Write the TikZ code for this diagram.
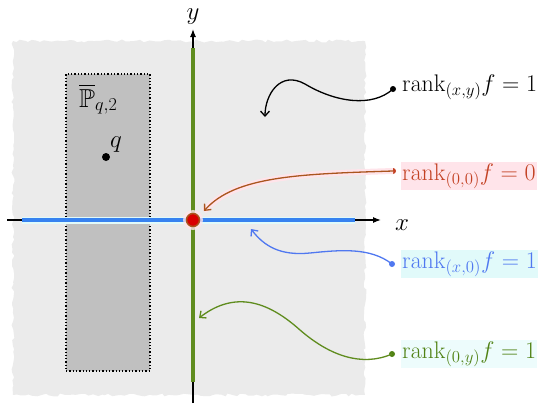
\RequirePackage{fix-cm}
\documentclass[tikz,border=0pt]{standalone}
\usepackage{amsmath,amssymb}
\usetikzlibrary{arrows.meta,decorations.pathmorphing}
\definecolor{regiongray}{RGB}{235,235,235}
\definecolor{boxgray}{RGB}{192,192,192}
\definecolor{rlab}{RGB}{195,65,35}
\definecolor{rcurve}{RGB}{170,85,30}
\definecolor{rpink}{RGB}{255,228,234}
\definecolor{blab}{RGB}{80,120,240}
\definecolor{baxis}{RGB}{55,130,240}
\definecolor{bglow}{RGB}{225,250,250}
\definecolor{glab}{RGB}{80,130,20}
\definecolor{gaxis}{RGB}{95,140,30}
\tikzset{
  lbl/.style={anchor=base west, inner sep=1pt, font=\fontsize{24}{28}\selectfont},
  axlbl/.style={inner sep=0pt, anchor=base, font=\fontsize{25}{29}\selectfont},
  dotn/.style={circle, fill, inner sep=0pt, minimum size=6pt},
  callout/.style={line width=1.3pt, -{Straight Barb[length=5pt,width=9pt]}},
  axisline/.style={line width=1.2pt, -{Latex[length=8pt,width=6pt]}},
}
\begin{document}
\begin{tikzpicture}[x=1pt,y=-1pt]
\useasboundingbox (0,0) rectangle (550,410);
% ragged grey region
\fill[regiongray, decorate, decoration={random steps, segment length=4pt, amplitude=1.5pt}]
  (13,41) rectangle (365,395);
% dotted box
\node[draw, dotted, line width=1.3pt, fill=boxgray, minimum width=84pt, minimum height=297pt, inner sep=0pt] (box) at (108,222.5) {};
\node[font=\fontsize{26}{30}\selectfont, anchor=base west, inner sep=0pt] (plab) at (79,107) {$\overline{\mathbb{P}}_{q,2}$};
\node[dotn, minimum size=8pt] (qdot) at (106,157) {};
\node[font=\fontsize{25}{29}\selectfont, anchor=base west, inner sep=0pt] (qlab) at (110,147) {$q$};
% axes
\coordinate (xs) at (7,220);
\coordinate (xe) at (381,220);
\coordinate (ys) at (193,403);
\coordinate (ye) at (193,29);
\draw[axisline] (xs) -- (xe);
\draw[axisline] (ys) -- (ye);
\coordinate (bs) at (22,220);
\coordinate (be) at (355,220);
\coordinate (gs) at (193,382);
\coordinate (ge) at (193,48);
\draw[bglow, line width=7pt] (bs) -- (be);
\draw[baxis, line width=4pt] (bs) -- (be);
\draw[gaxis, line width=4pt] (gs) -- (ge);
\node[axlbl] (xlab) at (402,230) {$x$};
\node[axlbl] (ylab) at (193,19) {$y$};
% origin dot
\node[circle, fill=rpink, minimum size=20pt, inner sep=0pt, opacity=0.8] (oglow) at (193,220) {};
\node[circle, fill=red!85!black, draw=rcurve, line width=1.5pt, minimum size=13pt, inner sep=0pt] (origin) at (193,220) {};
% labels
\node[lbl, text=black] (l1) at (401,91) {$\mathrm{rank}_{(x,y)}f = 1$};
\node[lbl, text=rlab, fill=rpink] (l2) at (401,180) {$\mathrm{rank}_{(0,0)}f = 0$};
\node[lbl, text=blab, fill=bglow] (l3) at (401,268) {$\mathrm{rank}_{(x,0)}f = 1$};
\node[lbl, text=glab, fill=bglow!60] (l4) at (401,358) {$\mathrm{rank}_{(0,y)}f = 1$};
% dots
\node[dotn, black] (d1) at (393,89) {};
\node[dotn, rlab] (d2) at (393,171) {};
\node[dotn, blab] (d3) at (392,264) {};
\node[dotn, glab] (d4) at (392,354) {};
% targets
\coordinate (t1) at (265,117);
\coordinate (t2) at (204,211);
\coordinate (t3) at (251,229);
\coordinate (t4) at (199,318);
% callouts
\draw[callout, black] (d1.center) .. controls (372,108) and (335,102) .. (305,84) .. controls (280,70) and (265,95) .. (t1);
\draw[rpink, line width=6pt] (d2.center) .. controls (300,174) and (235,176) .. (t2);
\draw[callout, rcurve] (d2.center) .. controls (300,174) and (235,176) .. (t2);
\draw[callout, blab] (d3.center) .. controls (370,247) and (340,250) .. (310,253) .. controls (280,256) and (264,246) .. (t3);
\draw[callout, gaxis] (d4.center) .. controls (362,367) and (330,356) .. (300,330) .. controls (272,305) and (238,288) .. (t4);
\end{tikzpicture}
\end{document}
